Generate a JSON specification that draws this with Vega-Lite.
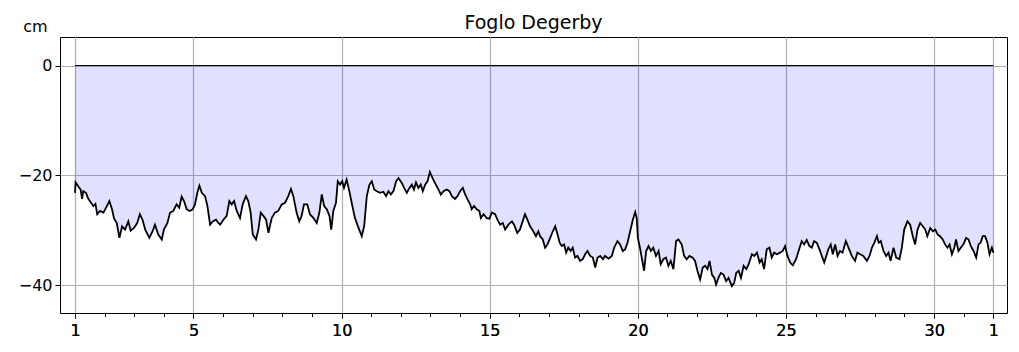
{
  "$schema": "https://vega.github.io/schema/vega-lite/v6.json",
  "width": 947,
  "height": 276,
  "autosize": {"type": "none"},
  "padding": {"left": 60, "top": 37, "right": 12, "bottom": 39},
  "background": "white",
  "title": {"text": "Foglo Degerby", "font": "DejaVu Sans", "fontSize": 19, "fontWeight": "normal", "color": "black", "offset": 5, "dy": 20, "anchor": "middle"},
  "datasets": {
    "level": [
      {"d":1.00,"v":-23.2},{"d":1.02,"v":-21.3},{"d":1.11,"v":-22.0},{"d":1.19,"v":-22.6},{"d":1.24,"v":-24.3},{"d":1.28,"v":-22.9},{"d":1.37,"v":-23.2},{"d":1.45,"v":-24.3},{"d":1.53,"v":-24.9},{"d":1.62,"v":-25.6},{"d":1.69,"v":-25.2},{"d":1.75,"v":-27.1},{"d":1.84,"v":-26.5},{"d":1.96,"v":-26.8},{"d":2.05,"v":-25.9},{"d":2.16,"v":-24.7},{"d":2.25,"v":-26.2},{"d":2.32,"v":-27.9},{"d":2.41,"v":-28.7},{"d":2.50,"v":-31.4},{"d":2.59,"v":-29.3},{"d":2.69,"v":-29.9},{"d":2.80,"v":-28.4},{"d":2.88,"v":-30.1},{"d":2.99,"v":-29.6},{"d":3.10,"v":-28.7},{"d":3.19,"v":-27.1},{"d":3.28,"v":-28.1},{"d":3.37,"v":-29.9},{"d":3.51,"v":-31.4},{"d":3.62,"v":-30.2},{"d":3.70,"v":-29.0},{"d":3.81,"v":-30.8},{"d":3.93,"v":-31.7},{"d":4.00,"v":-29.9},{"d":4.12,"v":-28.7},{"d":4.21,"v":-26.8},{"d":4.32,"v":-26.5},{"d":4.43,"v":-25.3},{"d":4.52,"v":-25.9},{"d":4.60,"v":-23.9},{"d":4.68,"v":-24.7},{"d":4.77,"v":-26.2},{"d":4.88,"v":-26.5},{"d":4.97,"v":-26.2},{"d":5.05,"v":-25.3},{"d":5.13,"v":-23.2},{"d":5.20,"v":-21.9},{"d":5.28,"v":-23.2},{"d":5.39,"v":-23.8},{"d":5.47,"v":-25.6},{"d":5.56,"v":-29.0},{"d":5.65,"v":-28.4},{"d":5.76,"v":-28.1},{"d":5.84,"v":-28.7},
      {"d":5.90,"v":-29.0},{"d":6.01,"v":-28.1},{"d":6.12,"v":-27.4},{"d":6.21,"v":-24.7},{"d":6.29,"v":-25.3},{"d":6.37,"v":-24.7},{"d":6.46,"v":-26.5},{"d":6.57,"v":-27.8},{"d":6.66,"v":-25.3},{"d":6.77,"v":-23.8},{"d":6.85,"v":-24.7},{"d":6.93,"v":-26.8},{"d":7.00,"v":-30.8},{"d":7.11,"v":-31.7},{"d":7.19,"v":-29.9},{"d":7.27,"v":-26.8},{"d":7.36,"v":-27.4},{"d":7.45,"v":-28.1},{"d":7.53,"v":-30.5},{"d":7.64,"v":-27.8},{"d":7.75,"v":-26.8},{"d":7.86,"v":-26.5},{"d":7.98,"v":-25.3},{"d":8.09,"v":-25.0},{"d":8.20,"v":-23.8},{"d":8.29,"v":-22.5},{"d":8.37,"v":-23.8},{"d":8.48,"v":-26.8},{"d":8.57,"v":-28.4},{"d":8.65,"v":-27.4},{"d":8.73,"v":-25.3},{"d":8.84,"v":-25.3},{"d":8.93,"v":-27.1},{"d":9.05,"v":-27.8},{"d":9.16,"v":-28.7},{"d":9.25,"v":-26.8},{"d":9.33,"v":-23.5},{"d":9.41,"v":-25.6},{"d":9.50,"v":-26.2},{"d":9.59,"v":-27.4},{"d":9.65,"v":-29.9},{"d":9.72,"v":-26.5},{"d":9.81,"v":-25.0},{"d":9.87,"v":-21.1},{"d":9.95,"v":-21.7},{"d":10.02,"v":-21.1},{"d":10.08,"v":-22.3},{"d":10.17,"v":-20.8},{"d":10.26,"v":-22.9},{"d":10.34,"v":-25.0},{"d":10.45,"v":-27.8},{"d":10.57,"v":-29.6},{"d":10.68,"v":-31.1},{"d":10.76,"v":-29.3},{"d":10.85,"v":-23.8},{"d":10.94,"v":-21.7},{"d":11.02,"v":-21.1},{"d":11.10,"v":-22.6},{"d":11.19,"v":-22.9},
      {"d":11.30,"v":-23.2},{"d":11.41,"v":-23.0},{"d":11.50,"v":-23.8},{"d":11.58,"v":-22.9},{"d":11.66,"v":-23.5},{"d":11.75,"v":-22.9},{"d":11.84,"v":-21.1},{"d":11.92,"v":-20.5},{"d":12.03,"v":-21.4},{"d":12.11,"v":-22.3},{"d":12.20,"v":-23.2},{"d":12.29,"v":-22.3},{"d":12.37,"v":-21.7},{"d":12.44,"v":-22.6},{"d":12.51,"v":-21.3},{"d":12.59,"v":-22.3},{"d":12.67,"v":-21.7},{"d":12.74,"v":-22.9},{"d":12.82,"v":-21.7},{"d":12.90,"v":-21.1},{"d":12.98,"v":-19.4},{"d":13.07,"v":-20.5},{"d":13.15,"v":-21.4},{"d":13.27,"v":-22.6},{"d":13.35,"v":-23.5},{"d":13.44,"v":-22.9},{"d":13.55,"v":-22.6},{"d":13.64,"v":-22.9},{"d":13.72,"v":-23.8},{"d":13.83,"v":-24.3},{"d":13.91,"v":-23.8},{"d":14.00,"v":-22.9},{"d":14.09,"v":-22.3},{"d":14.17,"v":-23.5},{"d":14.25,"v":-24.4},{"d":14.34,"v":-25.3},{"d":14.39,"v":-26.2},{"d":14.47,"v":-25.6},{"d":14.56,"v":-26.2},{"d":14.65,"v":-26.5},{"d":14.70,"v":-27.8},{"d":14.79,"v":-27.1},{"d":14.90,"v":-27.8},{"d":14.99,"v":-27.9},{"d":15.07,"v":-26.8},{"d":15.18,"v":-27.1},{"d":15.26,"v":-28.1},{"d":15.35,"v":-29.0},{"d":15.44,"v":-28.7},{"d":15.52,"v":-29.9},{"d":15.63,"v":-29.0},{"d":15.75,"v":-28.4},{"d":15.82,"v":-29.0},{"d":15.93,"v":-30.5},{"d":16.02,"v":-29.9},{"d":16.11,"v":-28.4},{"d":16.19,"v":-27.1},{"d":16.27,"v":-28.1},{"d":16.36,"v":-29.3},{"d":16.47,"v":-30.2},{"d":16.56,"v":-31.1},{"d":16.64,"v":-30.2},
      {"d":16.70,"v":-31.1},{"d":16.79,"v":-31.7},{"d":16.87,"v":-33.2},{"d":16.95,"v":-32.6},{"d":17.04,"v":-31.4},{"d":17.13,"v":-30.2},{"d":17.21,"v":-29.3},{"d":17.29,"v":-30.8},{"d":17.36,"v":-32.3},{"d":17.43,"v":-32.9},{"d":17.51,"v":-32.6},{"d":17.58,"v":-34.1},{"d":17.65,"v":-33.2},{"d":17.73,"v":-33.8},{"d":17.80,"v":-33.2},{"d":17.88,"v":-35.0},{"d":17.96,"v":-34.7},{"d":18.05,"v":-35.6},{"d":18.14,"v":-35.3},{"d":18.22,"v":-34.4},{"d":18.30,"v":-33.8},{"d":18.39,"v":-34.7},{"d":18.48,"v":-35.0},{"d":18.56,"v":-36.8},{"d":18.64,"v":-35.0},{"d":18.73,"v":-34.7},{"d":18.82,"v":-35.3},{"d":18.89,"v":-34.7},{"d":19.01,"v":-35.2},{"d":19.12,"v":-34.7},{"d":19.20,"v":-33.2},{"d":19.31,"v":-32.0},{"d":19.40,"v":-32.6},{"d":19.49,"v":-33.8},{"d":19.57,"v":-33.5},{"d":19.65,"v":-32.3},{"d":19.74,"v":-30.2},{"d":19.83,"v":-28.1},{"d":19.91,"v":-26.7},{"d":19.96,"v":-27.8},{"d":20.00,"v":-31.4},{"d":20.07,"v":-33.2},{"d":20.14,"v":-35.3},{"d":20.21,"v":-37.4},{"d":20.28,"v":-33.8},{"d":20.36,"v":-32.9},{"d":20.44,"v":-33.8},{"d":20.52,"v":-33.2},{"d":20.61,"v":-34.7},{"d":20.70,"v":-33.8},{"d":20.77,"v":-36.2},{"d":20.86,"v":-35.3},{"d":20.95,"v":-35.0},{"d":21.03,"v":-36.5},{"d":21.11,"v":-35.6},{"d":21.20,"v":-37.1},{"d":21.29,"v":-32.0},{"d":21.37,"v":-31.7},{"d":21.48,"v":-32.6},{"d":21.56,"v":-34.7},{"d":21.65,"v":-35.3},{"d":21.74,"v":-34.7},{"d":21.85,"v":-35.0},{"d":21.93,"v":-35.6},{"d":22.01,"v":-37.4},
      {"d":22.10,"v":-39.0},{"d":22.19,"v":-36.8},{"d":22.27,"v":-36.5},{"d":22.35,"v":-37.1},{"d":22.42,"v":-35.6},{"d":22.50,"v":-38.1},{"d":22.58,"v":-38.7},{"d":22.64,"v":-39.9},{"d":22.72,"v":-38.7},{"d":22.80,"v":-37.8},{"d":22.89,"v":-38.1},{"d":22.98,"v":-39.3},{"d":23.06,"v":-38.7},{"d":23.17,"v":-40.2},{"d":23.25,"v":-39.6},{"d":23.32,"v":-37.8},{"d":23.40,"v":-37.4},{"d":23.48,"v":-38.7},{"d":23.57,"v":-36.5},{"d":23.66,"v":-37.1},{"d":23.74,"v":-36.2},{"d":23.85,"v":-34.4},{"d":23.93,"v":-34.7},{"d":24.02,"v":-34.1},{"d":24.11,"v":-35.9},{"d":24.18,"v":-35.3},{"d":24.26,"v":-37.1},{"d":24.35,"v":-33.5},{"d":24.44,"v":-33.2},{"d":24.52,"v":-35.0},{"d":24.60,"v":-34.1},{"d":24.69,"v":-34.4},{"d":24.80,"v":-34.1},{"d":24.89,"v":-33.8},{"d":24.97,"v":-32.9},{"d":25.05,"v":-34.7},{"d":25.14,"v":-35.9},{"d":25.23,"v":-36.4},{"d":25.34,"v":-35.3},{"d":25.46,"v":-33.2},{"d":25.53,"v":-32.0},{"d":25.61,"v":-32.6},{"d":25.70,"v":-31.8},{"d":25.79,"v":-32.9},{"d":25.87,"v":-33.2},{"d":25.95,"v":-32.0},{"d":26.04,"v":-32.3},{"d":26.13,"v":-33.5},{"d":26.21,"v":-34.7},{"d":26.29,"v":-35.9},{"d":26.36,"v":-34.7},{"d":26.43,"v":-33.5},{"d":26.51,"v":-32.6},{"d":26.58,"v":-34.4},{"d":26.66,"v":-32.6},{"d":26.74,"v":-34.7},{"d":26.82,"v":-33.8},{"d":26.91,"v":-34.1},{"d":27.02,"v":-32.0},{"d":27.11,"v":-33.2},{"d":27.22,"v":-34.7},{"d":27.33,"v":-35.6},{"d":27.41,"v":-34.1},
      {"d":27.50,"v":-34.4},{"d":27.61,"v":-34.7},{"d":27.73,"v":-35.6},{"d":27.82,"v":-34.7},{"d":27.90,"v":-33.2},{"d":27.98,"v":-32.3},{"d":28.07,"v":-31.1},{"d":28.13,"v":-32.3},{"d":28.20,"v":-32.0},{"d":28.29,"v":-33.8},{"d":28.38,"v":-34.7},{"d":28.46,"v":-34.1},{"d":28.53,"v":-35.6},{"d":28.63,"v":-33.2},{"d":28.72,"v":-35.0},{"d":28.83,"v":-35.3},{"d":28.91,"v":-33.2},{"d":28.99,"v":-29.9},{"d":29.10,"v":-28.4},{"d":29.19,"v":-29.0},{"d":29.28,"v":-31.1},{"d":29.36,"v":-32.6},{"d":29.44,"v":-29.9},{"d":29.53,"v":-28.7},{"d":29.62,"v":-29.3},{"d":29.70,"v":-29.9},{"d":29.77,"v":-31.1},{"d":29.87,"v":-29.6},{"d":29.96,"v":-30.2},{"d":30.04,"v":-29.9},{"d":30.12,"v":-30.8},{"d":30.20,"v":-31.1},{"d":30.29,"v":-31.7},{"d":30.37,"v":-32.6},{"d":30.45,"v":-33.2},{"d":30.52,"v":-32.6},{"d":30.60,"v":-34.4},{"d":30.68,"v":-33.2},{"d":30.74,"v":-31.7},{"d":30.82,"v":-33.8},{"d":30.90,"v":-33.2},{"d":30.99,"v":-32.6},{"d":31.08,"v":-31.4},{"d":31.16,"v":-31.7},{"d":31.24,"v":-32.9},{"d":31.33,"v":-33.8},{"d":31.42,"v":-35.0},{"d":31.50,"v":-32.6},{"d":31.57,"v":-32.3},{"d":31.64,"v":-31.1},{"d":31.72,"v":-31.1},{"d":31.80,"v":-32.3},{"d":31.87,"v":-34.4},{"d":31.95,"v":-33.2},{"d":32.00,"v":-34.1}
    ],
    "zero": [{"start": 1, "end": 32, "level": 0}]
  },
  "layer": [
    {
      "data": {"name": "level"},
      "mark": {"type": "area", "color": "blue", "opacity": 0.12},
      "encoding": {
        "x": {"field": "d", "type": "quantitative", "scale": {"domain": [0.494, 32.46], "nice": false, "zero": false},
              "axis": {"values": [1, 5, 10, 15, 20, 25, 30, 32], "labelExpr": "datum.value == 32 ? '1' : datum.label", "title": null, "grid": true, "tickSize": 5, "labelPadding": 4, "orient": "bottom"}},
        "y": {"field": "v", "type": "quantitative", "scale": {"domain": [-45.1, 5.2], "nice": false, "zero": false},
              "axis": {"values": [0, -20, -40], "title": "cm"}},
        "y2": {"datum": 0}
      }
    },
    {
      "data": {"name": "level"},
      "mark": {"type": "line", "color": "black", "strokeWidth": 1.8},
      "encoding": {
        "x": {"field": "d", "type": "quantitative", "scale": {"domain": [0.494, 32.46], "nice": false, "zero": false},
              "axis": {"values": [1, 5, 10, 15, 20, 25, 30, 32], "labelExpr": "datum.value == 32 ? '1' : datum.label", "title": null, "grid": true, "tickSize": 5, "labelPadding": 4, "orient": "bottom"}},
        "y": {"field": "v", "type": "quantitative", "scale": {"domain": [-45.1, 5.2], "nice": false, "zero": false},
              "axis": {"values": [0, -20, -40], "title": "cm"}}
      }
    },
    {
      "data": {"name": "zero"},
      "mark": {"type": "rule", "color": "black", "strokeWidth": 1},
      "encoding": {
        "x": {"field": "start", "type": "quantitative", "scale": {"domain": [0.494, 32.46], "nice": false, "zero": false},
              "axis": {"values": [2,3,4,6,7,8,9,11,12,13,14,16,17,18,19,21,22,23,24,26,27,28,29,31], "labels": false, "grid": false, "title": null, "tickSize": 3.5, "orient": "bottom"}},
        "x2": {"field": "end"},
        "y": {"field": "level", "type": "quantitative", "scale": {"domain": [-45.1, 5.2], "nice": false, "zero": false},
              "axis": {"values": [0, -20, -40], "title": "cm"}}
      }
    }
  ],
  "resolve": {"axis": {"x": "independent"}},
  "config": {
    "font": "DejaVu Sans",
    "view": {"stroke": "black", "strokeWidth": 1},
    "axis": {
      "labelFont": "DejaVu Sans", "labelFontSize": 16, "labelColor": "black",
      "tickColor": "black", "tickWidth": 1, "gridColor": "#b0b0b0", "gridWidth": 1.1,
      "domain": false, "titleFont": "DejaVu Sans", "titleFontSize": 16, "titleFontWeight": "normal", "titleColor": "black"
    },
    "axisY": {
      "tickSize": 5, "labelPadding": 3, "grid": true,
      "titleAngle": 0, "titleX": -25, "titleY": -6, "titleAlign": "center", "titleBaseline": "alphabetic"
    }
  }
}
